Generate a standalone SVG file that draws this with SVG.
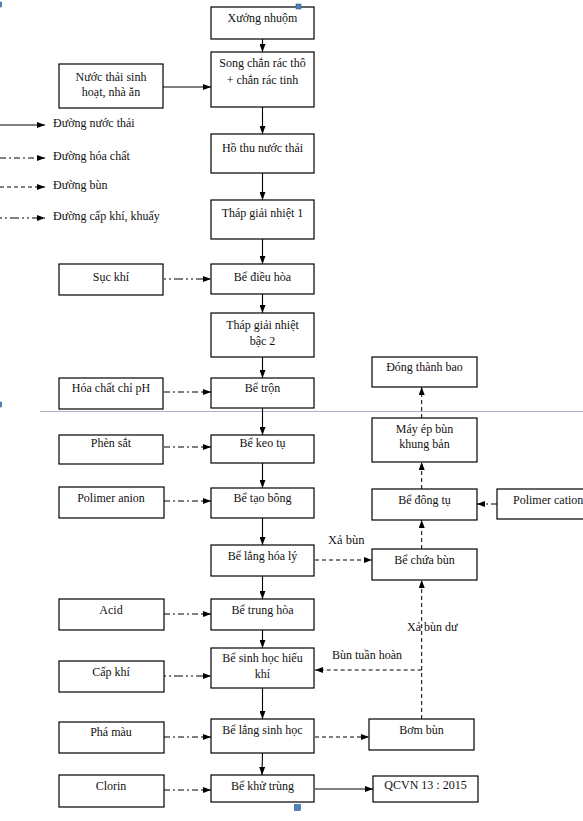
<svg xmlns="http://www.w3.org/2000/svg" width="583" height="821" viewBox="0 0 583 821">
<defs>
<marker id="ah" markerUnits="userSpaceOnUse" markerWidth="8" markerHeight="6" refX="8" refY="3" orient="auto">
<path d="M0,0 L8,3 L0,6 Z" fill="#000"/>
</marker>
<style>
text{font-family:'Liberation Serif','Tinos','DejaVu Serif',serif}
.box{fill:#fff;stroke:#000;stroke-width:1.2}
.t{font-size:12px;fill:#111;text-anchor:middle}
.lt{font-size:12px;fill:#111}
.lb{font-size:12.5px;fill:#111}
.w{fill:none;stroke:#000;stroke-width:1.1;marker-end:url(#ah)}
.c{fill:none;stroke:#000;stroke-width:1;stroke-dasharray:6 3 2 3;marker-end:url(#ah)}
.s{fill:none;stroke:#000;stroke-width:1;stroke-dasharray:4 3;marker-end:url(#ah)}
.a{fill:none;stroke:#000;stroke-width:1;stroke-dasharray:2 3 2 3 9 3;marker-end:url(#ah)}
.h{fill:#4f81bd;stroke:#2c5a8f;stroke-width:0.6}
</style>
</defs>
<rect x="0" y="0" width="583" height="821" fill="#fff"/>

<line x1="40" y1="411.5" x2="583" y2="411.5" stroke="#a9b5c7" stroke-width="1"/>

<g id="legend" font-family="Liberation Serif, serif">
<line class="w" x1="0" y1="125" x2="45" y2="125"/>
<text class="lt" x="53" y="127">Đường nước thải</text>
<line class="c" x1="0" y1="158" x2="45" y2="158"/>
<text class="lt" x="53" y="160">Đường hóa chất</text>
<line class="s" x1="0" y1="187" x2="45" y2="187"/>
<text class="lt" x="53" y="189">Đường bùn</text>
<line class="a" x1="0" y1="218" x2="45" y2="218"/>
<text class="lt" x="53" y="220">Đường cấp khí, khuấy</text>
</g>

<g id="connectors">
<line class="w" x1="262.5" y1="39" x2="262.5" y2="52"/>
<line class="w" x1="262.5" y1="107" x2="262.5" y2="134"/>
<line class="w" x1="262.5" y1="173" x2="262.5" y2="200"/>
<line class="w" x1="262.5" y1="239" x2="262.5" y2="264"/>
<line class="w" x1="262.5" y1="294" x2="262.5" y2="313"/>
<line class="w" x1="262.5" y1="357" x2="262.5" y2="378"/>
<line class="w" x1="262.5" y1="408" x2="262.5" y2="435"/>
<line class="w" x1="262.5" y1="463" x2="262.5" y2="488"/>
<line class="w" x1="262.5" y1="518" x2="262.5" y2="545"/>
<line class="w" x1="262.5" y1="576" x2="262.5" y2="599"/>
<line class="w" x1="262.5" y1="630" x2="262.5" y2="648"/>
<line class="w" x1="262.5" y1="688" x2="262.5" y2="719"/>
<line class="w" x1="262.5" y1="753" x2="262" y2="775"/>
<line class="w" x1="163" y1="87" x2="211" y2="87"/>
<line class="a" x1="164" y1="279" x2="211" y2="279"/>
<line class="c" x1="164" y1="392" x2="211" y2="392"/>
<line class="c" x1="164" y1="447" x2="211" y2="447"/>
<line class="c" x1="164" y1="501" x2="211" y2="501"/>
<line class="c" x1="164" y1="614" x2="211" y2="614"/>
<line class="a" x1="164" y1="676" x2="211" y2="676"/>
<line class="c" x1="164" y1="737" x2="211" y2="737"/>
<line class="c" x1="164" y1="790" x2="211" y2="790"/>
<line class="s" x1="315" y1="560" x2="372" y2="560"/>
<line class="s" x1="315" y1="737" x2="369" y2="737"/>
<line class="s" x1="421.7" y1="719" x2="421.7" y2="580"/>
<line class="s" x1="421.7" y1="670" x2="315" y2="670"/>
<line class="s" x1="421.7" y1="549" x2="421.7" y2="520"/>
<line class="s" x1="421.7" y1="489" x2="421.7" y2="462"/>
<line class="s" x1="421.7" y1="418" x2="421.7" y2="387"/>
<line class="c" x1="497" y1="504" x2="477" y2="504"/>
<line class="w" x1="315" y1="789" x2="373" y2="789"/>
</g>

<g id="n-xuong"><rect class="box" x="211" y="7" width="103" height="32"/><text class="t" x="262.5" y="22">Xưởng nhuộm</text></g>
<g id="n-song"><rect class="box" x="211" y="52" width="103" height="55"/><text class="t" x="262.5" y="67">Song chắn rác thô</text><text class="t" x="262.5" y="84">+ chắn rác tinh</text></g>
<g id="n-ho"><rect class="box" x="211" y="134" width="103" height="39"/><text class="t" x="262.5" y="152">Hồ thu nước thải</text></g>
<g id="n-thap1"><rect class="box" x="211" y="200" width="103" height="39"/><text class="t" x="262.5" y="217">Tháp giải nhiệt 1</text></g>
<g id="n-dieuhoa"><rect class="box" x="211" y="264" width="103" height="30"/><text class="t" x="262.5" y="281">Bể điều hòa</text></g>
<g id="n-thap2"><rect class="box" x="211" y="313" width="103" height="44"/><text class="t" x="262.5" y="329">Tháp giải nhiệt</text><text class="t" x="262.5" y="345">bậc 2</text></g>
<g id="n-tron"><rect class="box" x="211" y="378" width="103" height="30"/><text class="t" x="262.5" y="392">Bể trộn</text></g>
<g id="n-keotu"><rect class="box" x="211" y="435" width="103" height="28"/><text class="t" x="262.5" y="447">Bể keo tụ</text></g>
<g id="n-taobong"><rect class="box" x="211" y="488" width="103" height="30"/><text class="t" x="262.5" y="502">Bể tạo bông</text></g>
<g id="n-langhoaly"><rect class="box" x="211" y="545" width="103" height="31"/><text class="t" x="262.5" y="560">Bể lắng hóa lý</text></g>
<g id="n-trunghoa"><rect class="box" x="211" y="599" width="103" height="31"/><text class="t" x="262.5" y="614">Bể trung hòa</text></g>
<g id="n-sinhhoc"><rect class="box" x="211" y="648" width="103" height="40"/><text class="t" x="262.5" y="662">Bể sinh học hiếu</text><text class="t" x="262.5" y="678">khí</text></g>
<g id="n-langsinhhoc"><rect class="box" x="211" y="719" width="103" height="34"/><text class="t" x="262.5" y="734">Bể lắng sinh học</text></g>
<g id="n-khutrung"><rect class="box" x="211" y="775" width="103" height="27"/><text class="t" x="262.5" y="790">Bể khử trùng</text></g>

<g id="n-nuocthai"><rect class="box" x="59" y="64" width="104" height="44"/><text class="t" x="111" y="81">Nước thải sinh</text><text class="t" x="111" y="96">hoạt, nhà ăn</text></g>
<g id="n-suckhi"><rect class="box" x="59" y="264" width="104" height="31"/><text class="t" x="111" y="281">Sục khí</text></g>
<g id="n-ph"><rect class="box" x="59" y="378" width="104" height="31"/><text class="t" x="111" y="392">Hóa chất chỉ pH</text></g>
<g id="n-phen"><rect class="box" x="59" y="435" width="104" height="29"/><text class="t" x="111" y="447">Phèn sắt</text></g>
<g id="n-anion"><rect class="box" x="59" y="487" width="105" height="31"/><text class="t" x="111" y="502">Polimer anion</text></g>
<g id="n-acid"><rect class="box" x="59" y="599" width="105" height="31"/><text class="t" x="111" y="614">Acid</text></g>
<g id="n-capkhi"><rect class="box" x="59" y="661" width="105" height="31"/><text class="t" x="111" y="676">Cấp khí</text></g>
<g id="n-phamau"><rect class="box" x="59" y="722" width="105" height="31"/><text class="t" x="111" y="736">Phá màu</text></g>
<g id="n-clorin"><rect class="box" x="59" y="775" width="105" height="32"/><text class="t" x="111" y="790">Clorin</text></g>

<g id="n-dongbao"><rect class="box" x="372" y="357" width="105" height="30"/><text class="t" x="424.5" y="371">Đóng thành bao</text></g>
<g id="n-mayep"><rect class="box" x="372" y="418" width="105" height="44"/><text class="t" x="424.5" y="433">Máy ép bùn</text><text class="t" x="424.5" y="448">khung bản</text></g>
<g id="n-dongtu"><rect class="box" x="372" y="489" width="105" height="31"/><text class="t" x="424.5" y="504">Bể đông tụ</text></g>
<g id="n-chuabun"><rect class="box" x="372" y="549" width="105" height="31"/><text class="t" x="424.5" y="564">Bể chứa bùn</text></g>
<g id="n-bombun"><rect class="box" x="369" y="719" width="105" height="31"/><text class="t" x="421.5" y="734">Bơm bùn</text></g>
<g id="n-qcvn"><rect class="box" x="373" y="776" width="105" height="26"/><text class="t" x="425.5" y="789">QCVN 13 : 2015</text></g>
<g id="n-cation"><rect class="box" x="497" y="489" width="95" height="30"/><text class="lt" x="513" y="504">Polimer cation</text></g>

<g id="labels">
<text class="lb" x="328" y="544">Xả bùn</text>
<text class="lt" x="407" y="631">Xả bùn dư</text>
<text class="lt" x="332" y="659">Bùn tuần hoàn</text>
</g>

<g id="handles">
<rect class="h" x="296" y="4" width="5" height="5"/>
<rect class="h" x="294.5" y="804.5" width="6" height="6"/>
<rect class="h" x="-1" y="2" width="2.5" height="5"/>
<rect class="h" x="-1" y="402" width="2.5" height="5"/>
</g>
</svg>
